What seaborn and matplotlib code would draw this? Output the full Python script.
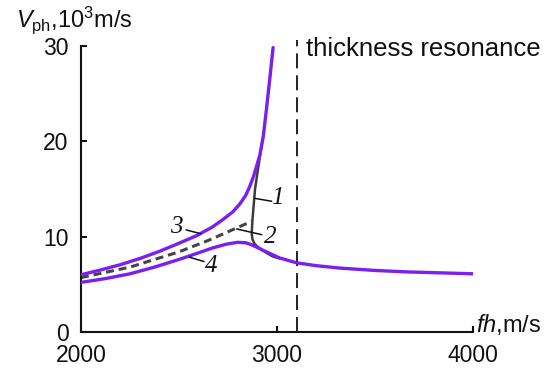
import matplotlib
matplotlib.use("Agg")
import matplotlib.pyplot as plt
import seaborn as sns
import pandas as pd

# ---- data ----
curve3_x = [2000, 2100, 2200, 2300, 2400, 2500, 2590, 2670, 2725, 2775, 2810, 2840, 2860, 2880, 2895, 2913, 2930, 2947, 2963, 2980]
curve3_y = [6.0, 6.5, 7.05, 7.7, 8.45, 9.3, 10.1, 11.0, 11.8, 12.6, 13.4, 14.3, 15.2, 16.3, 17.3, 18.6, 20.5, 23.5, 26.5, 29.8]

curve4_x = [2000, 2125, 2250, 2375, 2500, 2600, 2670, 2740, 2800, 2840, 2870, 2910, 2950, 3015, 3100, 3200, 3320, 3500, 3660, 3830, 4000]
curve4_y = [5.2, 5.6, 6.1, 6.8, 7.6, 8.3, 8.8, 9.2, 9.4, 9.35, 9.15, 8.75, 8.35, 7.75, 7.25, 6.95, 6.7, 6.45, 6.3, 6.2, 6.1]

curve2_x = [2000, 2250, 2500, 2650, 2794, 2871]
curve2_y = [5.7, 6.8, 8.4, 9.6, 10.9, 11.6]

curve1_x = [2925, 2904, 2888, 2880, 2874, 2871, 2875, 2885, 2900, 2913, 2950, 2980, 3015]
curve1_y = [20.0, 17.2, 15.0, 13.05, 11.5, 10.3, 9.7, 9.25, 8.95, 8.75, 8.25, 7.9, 7.7]

resonance_x = 3100

x_ticks = [2000, 3000, 4000]
y_ticks = [0, 10, 20, 30]

labels = ["1", "2", "3", "4"]
label_pos = [(3000, 14.05), (2965, 10.0), (2485, 11.0), (2665, 6.95)]
leader_from = [(2888, 14.0), (2794, 10.8), (2536, 10.7), (2553, 7.84)]
leader_to = [(2973, 13.7), (2922, 10.2), (2611, 10.3), (2628, 7.38)]

# ---- style ----
sns.set_theme(style="white")
plt.rcParams["font.family"] = ["Liberation Sans", "DejaVu Sans"]
plt.rcParams["mathtext.fontset"] = "custom"
plt.rcParams["mathtext.rm"] = "Liberation Sans"
plt.rcParams["mathtext.it"] = "Liberation Sans:italic"

purple = "#7a1ff0"
dark = "#3c3c3c"

fig = plt.figure(figsize=(5.56, 3.70), dpi=100)
ax = fig.add_axes([81 / 556, 1 - 332 / 370, (473 - 81) / 556, (332 - 40) / 370])

# curve 1 (grey, under the purple ones)
sns.lineplot(x=curve1_x, y=curve1_y, ax=ax, sort=False, estimator=None,
             color=dark, linewidth=1.8, zorder=2)
# curve 2 (dashed)
sns.lineplot(x=curve2_x, y=curve2_y, ax=ax, sort=False, estimator=None,
             color="#444444", linewidth=2.2, linestyle=(0, (2.6, 1.6)), zorder=2)
# curves 3 and 4 (purple)
sns.lineplot(x=curve3_x, y=curve3_y, ax=ax, sort=False, estimator=None,
             color=purple, linewidth=2.4, zorder=3)
sns.lineplot(x=curve4_x, y=curve4_y, ax=ax, sort=False, estimator=None,
             color=purple, linewidth=2.4, zorder=3)

# thickness resonance line
ax.plot([resonance_x, resonance_x], [0, 30.6], color="#222222", linewidth=1.4,
        linestyle=(0, (7.7, 3.6)), zorder=1)
ax.text(3150, 28.9, "thickness resonance", fontsize=18.5, ha="left", va="baseline", color="#111111")

# curve labels with leader lines
for lab, (tx, ty), (x0, y0), (x1, y1) in zip(labels, label_pos, leader_from, leader_to):
    ax.plot([x0, x1], [y0, y1], color="#111111", linewidth=1.1, zorder=4)
    ax.text(tx, ty, lab, fontsize=18, family=["Liberation Serif"], style="italic",
            ha="center", va="center", color="#111111")

ax.set_xlim(2000, 4000)
ax.set_ylim(0, 30.6)
ax.set_xticks(x_ticks)
ax.set_xticklabels([str(v) for v in x_ticks])
ax.set_yticks(y_ticks)
ax.set_yticklabels([str(v) for v in y_ticks])

for s in ["top", "right"]:
    ax.spines[s].set_visible(False)
for s in ["left", "bottom"]:
    ax.spines[s].set_linewidth(1.5)
    ax.spines[s].set_color("#111111")
ax.spines["left"].set_bounds(0, 30)
ax.tick_params(axis="both", direction="in", length=4.5, width=1.5, colors="#111111",
               labelsize=16.5, left=True, bottom=True)
ax.tick_params(axis="y", pad=9)
ax.tick_params(axis="x", pad=9)
ax.grid(False)
ax.set_xlabel("")
ax.set_ylabel("")

ax.text(1.008, 0.0, r"$\it{fh}$,m/s", transform=ax.transAxes, fontsize=17,
        ha="left", va="baseline", color="#111111")
fig.text(16 / 556, 1 - 27 / 370, r"$V_{\rm ph}$,10$^3$m/s", fontsize=17,
         ha="left", va="baseline", color="#111111")

fig.savefig("out.png", dpi=100)
